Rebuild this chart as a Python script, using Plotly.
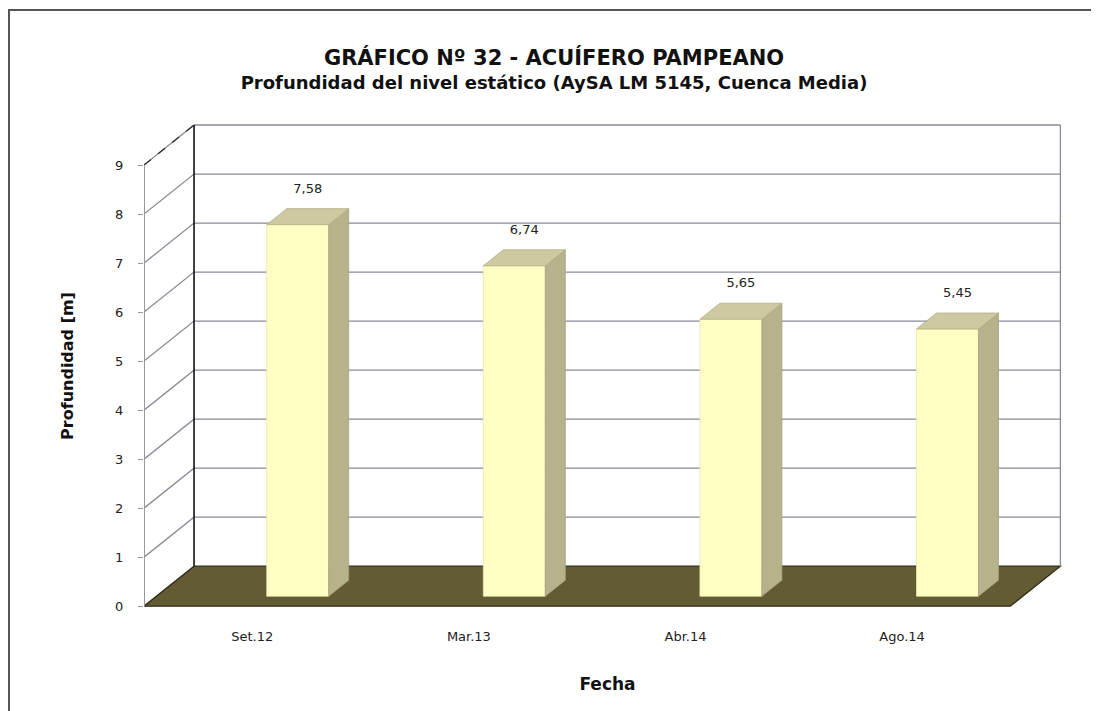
import plotly.graph_objects as go

# ---- data ----
categories = ["Set.12", "Mar.13", "Abr.14", "Ago.14"]
depth_values = [7.58, 6.74, 5.65, 5.45]
y_ticks = [0, 1, 2, 3, 4, 5, 6, 7, 8, 9]

title_line1 = "GRÁFICO Nº 32 - ACUÍFERO PAMPEANO"
title_line2 = "Profundidad del nivel estático (AySA LM 5145, Cuenca Media)"
y_title = "Profundidad [m]"
x_title = "Fecha"

# ---- oblique 3D geometry (in axis units) ----
DX = 0.231          # depth shift along x (category units)
DY = 0.816          # depth shift along y (value units)
BAR_FRONT = 0.25    # bar front plane (fraction of depth)
BAR_DEPTH = 0.40    # bar depth (fraction of depth)
BAR_W = 0.286
BAR_OFF = 0.152
n = len(categories)
x_left, x_right = -0.5, n - 0.5
ymax = max(y_ticks)

FONT = "DejaVu Sans, Verdana, sans-serif"
W, H = 1091, 703
ML, MR, MT, MB = 136, 28, 108, 95
PW, PH = W - ML - MR, H - MT - MB

fig = go.Figure()

shapes = []
# floor
shapes.append(dict(
    type="path", xref="x", yref="y", layer="below",
    path=(f"M {x_left},0 L {x_right},0 L {x_right + DX},{DY} "
          f"L {x_left + DX},{DY} Z"),
    fillcolor="#625b33", line=dict(color="#2e2b18", width=1.3)))
# back wall gridlines + side wall diagonals
for v in y_ticks[1:]:
    shapes.append(dict(
        type="path", xref="x", yref="y", layer="below",
        path=(f"M {x_left},{v} L {x_left + DX},{v + DY} "
              f"L {x_right + DX},{v + DY}"),
        line=dict(color="#8a8a9a", width=1.3)))
# top-left diagonal (dark dashed)
shapes.append(dict(type="line", xref="x", yref="y", layer="below",
                   x0=x_left, y0=ymax, x1=x_left + DX, y1=ymax + DY,
                   line=dict(color="#333333", width=1.3, dash="dash")))
# back wall frame
shapes.append(dict(type="line", xref="x", yref="y", layer="below",
                   x0=x_left + DX, y0=DY, x1=x_left + DX, y1=ymax + DY,
                   line=dict(color="#111111", width=1.6)))
shapes.append(dict(type="line", xref="x", yref="y", layer="below",
                   x0=x_right + DX, y0=DY, x1=x_right + DX, y1=ymax + DY,
                   line=dict(color="#8a8a9a", width=1.3)))
# front value axis line
shapes.append(dict(type="line", xref="x", yref="y", layer="below",
                   x0=x_left, y0=0, x1=x_left, y1=ymax,
                   line=dict(color="#9a9a9a", width=2)))
# outer chart border
shapes.append(dict(type="rect", xref="paper", yref="paper", layer="below",
                   x0=(1 - ML) / PW, x1=(W + 30 - ML) / PW,
                   y0=(MT + PH - (H + 30)) / PH, y1=(MT + PH - 2) / PH,
                   line=dict(color="#555555", width=2)))

# bars: front faces
fx = [i + BAR_OFF + BAR_FRONT * DX for i in range(n)]
base0 = BAR_FRONT * DY
fig.add_trace(go.Bar(
    x=fx, y=depth_values, base=[base0] * n, width=BAR_W,
    marker=dict(color="#ffffc4", line=dict(color="#e8e8aa", width=0.8)),
    hoverinfo="skip", showlegend=False))

bdx, bdy = BAR_DEPTH * DX, BAR_DEPTH * DY
for i, v in enumerate(depth_values):
    xl = fx[i] - BAR_W / 2
    xr = fx[i] + BAR_W / 2
    top = base0 + v
    # side face
    fig.add_trace(go.Scatter(
        x=[xr, xr + bdx, xr + bdx, xr, xr],
        y=[base0, base0 + bdy, top + bdy, top, base0],
        mode="lines", fill="toself", fillcolor="#b6b28c",
        line=dict(color="#a6a27c", width=0.8),
        hoverinfo="skip", showlegend=False))
    # top face
    fig.add_trace(go.Scatter(
        x=[xl, xr, xr + bdx, xl + bdx, xl],
        y=[top, top, top + bdy, top + bdy, top],
        mode="lines", fill="toself", fillcolor="#cdc9a0",
        line=dict(color="#b3af88", width=0.8),
        hoverinfo="skip", showlegend=False))

# data labels
fig.add_trace(go.Scatter(
    x=[f + bdx / 2 for f in fx],
    y=[base0 + v + 0.72 for v in depth_values],
    mode="text", text=depth_values, texttemplate="%{text:.2f}",
    textfont=dict(family=FONT, size=13, color="#222222"),
    hoverinfo="skip", showlegend=False))

fig.update_layout(
    width=W, height=H,
    margin=dict(l=ML, r=MR, t=MT, b=MB),
    paper_bgcolor="white", plot_bgcolor="white",
    separators=",.",
    title=dict(
        text=(f"<b><span style='font-size:21px'>{title_line1}</span></b><br>"
              f"<b><span style='font-size:18px'>{title_line2}</span></b>"),
        x=0.5005, xanchor="center", y=0.9185, yanchor="top",
        font=dict(family=FONT, size=18, color="#111111")),
    xaxis=dict(
        range=[x_left, x_right + 0.28], showgrid=False, zeroline=False,
        showline=False, tickmode="array", tickvals=list(range(n)),
        ticktext=categories, ticks="", ticklabelstandoff=11,
        automargin=False,
        tickfont=dict(family=FONT, size=13, color="#222222"),
        title=dict(text=f"<b>{x_title}</b>", standoff=35,
                   font=dict(family=FONT, size=17, color="#111111"))),
    yaxis=dict(
        range=[-0.2, 10.0], showgrid=False, zeroline=False,
        showline=False, automargin=False,
        tickmode="array", tickvals=y_ticks, ticks="outside", ticklen=5,
        tickcolor="#9a9a9a", ticklabelstandoff=12,
        tickfont=dict(family=FONT, size=13, color="#222222"),
        title=dict(text=f"<b>{y_title}</b>", standoff=37,
                   font=dict(family=FONT, size=16, color="#111111"))),
    shapes=shapes,
)

fig.write_html("out.html")
